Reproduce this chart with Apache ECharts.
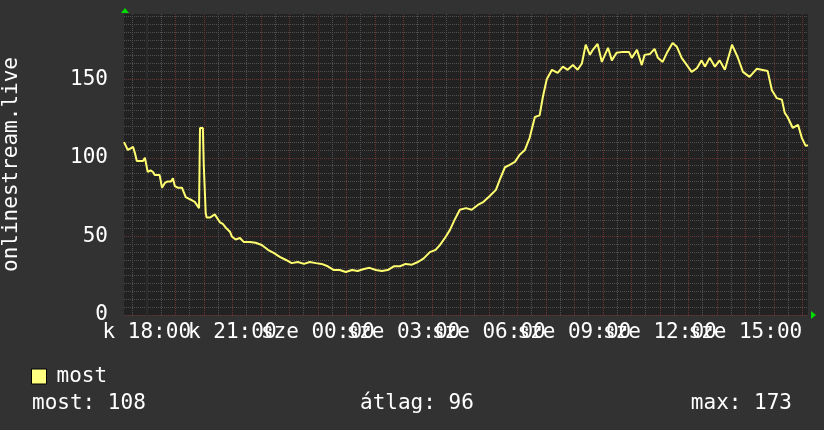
<!DOCTYPE html>
<html><head><meta charset="utf-8">
<script src="https://cdn.jsdelivr.net/npm/echarts@6/dist/echarts.min.js"></script>
<style>html,body{margin:0;padding:0;background:#323232;} #c{width:824px;height:430px;}</style>
</head><body><div id="c"></div>
<script>
// minutes relative to "k 18:00"
const times = [-48,-44,-40,-34,-29,-25,-21,-15,-8,-4,2,8,13,17,21,27,32,38,44,51,55,59,65,74,78,82,88,95,101,105,110,112,118,120,122,124,126,133,137,143,147,154,160,168,175,179,187,196,204,217,229,242,255,267,280,293,305,318,331,343,356,368,381,394,406,419,432,444,457,469,482,495,507,520,533,545,558,571,583,596,608,617,629,638,648,659,672,684,697,709,722,735,743,754,764,775,785,796,806,817,827,834,842,853,865,876,886,897,907,916,924,933,939,949,958,971,979,989,1002,1015,1021,1032,1042,1048,1059,1069,1076,1086,1095,1107,1116,1126,1137,1147,1158,1168,1175,1185,1196,1206,1217,1232,1244,1255,1269,1284,1307,1316,1326,1337,1343,1349,1360,1371,1379,1387,1392];
const values = [110,110,105,106,107,103,98,98,98,100,91,92,91,89,88,89,81,84,85,85,87,82,81,81,78,75,74,73,72,72,68,119,119,95,94,65,62,62,62,64,63,59,58,55,53,50,48,49,46.5,46.5,46,44.5,41.5,39.5,37,35,33,33.7,32.5,33.7,33,32.5,31,28.6,28.6,27.4,28.6,28,29.3,30,28.6,28,28.6,31,31,32.5,32,33.7,36,40,41.4,44.5,49.6,54,60.5,67,68,67,70,72,75.7,79.6,86,94,95.5,97.4,102,105,112.7,126,127,139,150,156,154,158,156,159,156,160,172,165.5,168.7,172.5,161,170,162,166.8,167.4,167.4,163.6,168.7,159,165.5,166,169.3,163.6,161,166.8,173,170.6,163.6,159,154.7,157,162,158,163.6,158,162,156,172,164,154.7,151.5,156.6,155.3,143,138,137,128.6,126,119,121,112.7,107.6,108];
const xLabelValues = [0,180,360,540,720,900,1080,1260];
const xLabelTexts = ['k 18:00','k 21:00','sze 00:00','sze 03:00','sze 06:00','sze 09:00','sze 12:00','sze 15:00'];
const yLabelValues = [0,50,100,150];
const seriesName = 'most';
const statTexts = ['most: 108','átlag: 96','max: 173'];
const axisTitle = 'onlinestream.live';

const FONT = 'DejaVu Sans Mono';
const RED = '#6a3434', GRAY = '#505050', NONE = 'rgba(0,0,0,0)';
const yColors = [RED, GRAY, GRAY, GRAY, GRAY, GRAY, GRAY, GRAY, GRAY, GRAY];
// x grid: ticks every 6 min starting at -48 -> half-hour (gray) and hour (red) lines
const xColors = [NONE, NONE, NONE, GRAY, NONE, NONE, NONE, NONE, RED, NONE];

// labels alternate between two axes so overlapping labels are all kept
const labelsA = xLabelValues.filter((v, i) => i % 2 === 0);
const labelsB = xLabelValues.filter((v, i) => i % 2 === 1);
const labelAxis = vals => ({
  type: 'value', min: -48, max: 1392, position: 'bottom',
  axisLine: {show: false}, axisTick: {show: false}, splitLine: {show: false},
  axisLabel: {
    customValues: vals, color: '#ffffff', fontFamily: FONT, fontSize: 21, margin: 7,
    showMinLabel: true, showMaxLabel: true, hideOverlap: false,
    formatter: v => xLabelTexts[xLabelValues.indexOf(v)] || ''
  }
});

const chart = echarts.init(document.getElementById('c'), null, {renderer: 'canvas'});
chart.setOption({
  backgroundColor: '#323232',
  animation: false,
  grid: {left: 124, right: 16, top: 14, bottom: 115, show: true, backgroundColor: '#222222', borderWidth: 0, outerBoundsMode: 'none', containLabel: false},
  xAxis: [
    labelAxis(labelsA),
    {
      type: 'value', min: -48, max: 1392, interval: 6, position: 'bottom',
      axisLine: {show: false}, axisTick: {show: false}, axisLabel: {show: false},
      splitLine: {show: true, lineStyle: {color: xColors, width: 1, type: [1, 1]}}
    },
    labelAxis(labelsB)
  ],
  yAxis: {
    type: 'value', min: 0, max: 191.5, interval: 5,
    name: axisTitle, nameLocation: 'middle', nameGap: 102, nameRotate: 90,
    nameTextStyle: {color: '#ffffff', fontFamily: FONT, fontSize: 21},
    axisLine: {show: true, lineStyle: {color: '#2c2c2c', width: 2}},
    axisTick: {show: false},
    axisLabel: {customValues: yLabelValues, color: '#ffffff', fontFamily: FONT, fontSize: 21, margin: 16},
    splitLine: {show: true, showMaxLine: false, lineStyle: {color: yColors, width: 1, type: [1, 1]}}
  },
  legend: {
    left: 31, top: 366, padding: 0, itemWidth: 15, itemHeight: 15, icon: 'rect',
    data: [{name: seriesName, itemStyle: {color: '#ffff80', borderColor: '#000000', borderWidth: 1}}],
    textStyle: {color: '#ffffff', fontFamily: FONT, fontSize: 21, padding: [0, 0, 0, 5]}
  },
  title: [
    {text: statTexts[0], left: 32, top: 393, padding: 0, textStyle: {color: '#fff', fontFamily: FONT, fontSize: 21, fontWeight: 'normal'}},
    {text: statTexts[1], left: 360, top: 393, padding: 0, textStyle: {color: '#fff', fontFamily: FONT, fontSize: 21, fontWeight: 'normal'}},
    {text: statTexts[2], right: 32, top: 393, padding: 0, textStyle: {color: '#fff', fontFamily: FONT, fontSize: 21, fontWeight: 'normal'}}
  ],
  series: [{
    name: seriesName, type: 'line', showSymbol: false, symbol: 'none',
    xAxisIndex: 0,
    data: times.map((t, i) => [t, values[i]]),
    itemStyle: {color: '#ffff80'},
    lineStyle: {color: '#ffff70', width: 2},
    z: 5
  }]
});

const tl = chart.convertToPixel({gridIndex: 0}, [-48, 191.5]);
const br = chart.convertToPixel({gridIndex: 0}, [1392, 0]);
chart.setOption({
  graphic: [
    {type: 'polygon', shape: {points: [[tl[0] + 1, tl[1] - 6], [tl[0] - 3, tl[1] - 1], [tl[0] + 5, tl[1] - 1]]}, style: {fill: '#00dd00'}},
    {type: 'polygon', shape: {points: [[br[0] + 8, br[1]], [br[0] + 3, br[1] - 4], [br[0] + 3, br[1] + 4]]}, style: {fill: '#00dd00'}}
  ]
});
</script></body></html>
